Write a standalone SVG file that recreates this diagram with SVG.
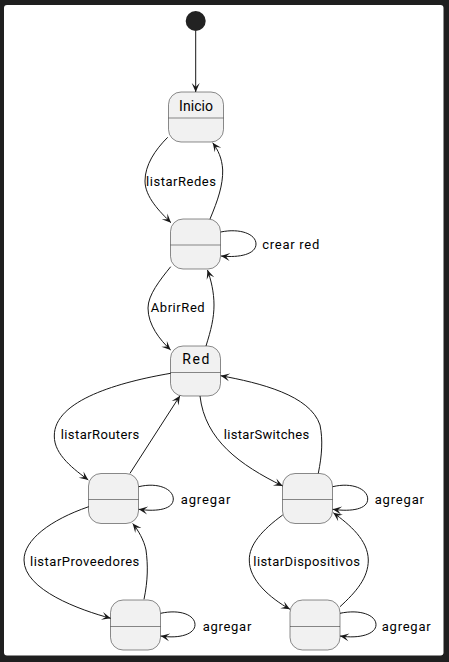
<svg xmlns="http://www.w3.org/2000/svg" width="449" height="662" viewBox="0 0 449 662">
<style>
.st{fill:#F1F1F1;stroke:#181818;stroke-width:0.5}
.sep{stroke:#181818;stroke-width:0.5}
.e{fill:none;stroke:#181818;stroke-width:1;marker-end:url(#ah)}
.lbl{font-family:Roboto,"Liberation Sans",sans-serif;font-size:13px;fill:#000000}
.nm{font-family:Roboto,"Liberation Sans",sans-serif;font-size:14px;fill:#000000}
</style>
<defs>
<marker id="ah" markerUnits="userSpaceOnUse" markerWidth="12" markerHeight="10" refX="10" refY="5" orient="auto" viewBox="0 0 12 10">
<path d="M10,5 L1,1 L5,5 L1,9 Z" fill="#181818"/>
</marker>
</defs>
<rect x="0" y="0" width="449" height="662" fill="#1f1f1f"/>
<rect x="4" y="5" width="439.5" height="650.5" rx="3" fill="#FFFFFF"/>

<g id="start"><circle cx="195.7" cy="21" r="10" fill="#222222"/></g>

<g id="Inicio">
<rect class="st" x="168.5" y="92" width="55" height="50" rx="12.5"/>
<line class="sep" x1="168.5" y1="118" x2="223.5" y2="118"/>
<text class="nm" x="179" y="110.5" textLength="34" lengthAdjust="spacing">Inicio</text>
</g>
<g id="Redes">
<rect class="st" x="170.5" y="219" width="50" height="50" rx="12.5"/>
<line class="sep" x1="170.5" y1="245" x2="220.5" y2="245"/>
</g>
<g id="Red">
<rect class="st" x="170.5" y="346" width="50" height="50" rx="12.5"/>
<line class="sep" x1="170.5" y1="372.5" x2="220.5" y2="372.5"/>
<text class="nm" x="182.3" y="364" textLength="27" lengthAdjust="spacing">Red</text>
</g>
<g id="Routers">
<rect class="st" x="88.5" y="473.5" width="50" height="50" rx="12.5"/>
<line class="sep" x1="88.5" y1="499.5" x2="138.5" y2="499.5"/>
</g>
<g id="Switches">
<rect class="st" x="282.5" y="473.5" width="50" height="50" rx="12.5"/>
<line class="sep" x1="282.5" y1="499.5" x2="332.5" y2="499.5"/>
</g>
<g id="Proveedores">
<rect class="st" x="110.5" y="600" width="50" height="50" rx="12.5"/>
<line class="sep" x1="110.5" y1="626.5" x2="160.5" y2="626.5"/>
</g>
<g id="Dispositivos">
<rect class="st" x="290" y="600" width="50" height="50" rx="12.5"/>
<line class="sep" x1="290" y1="626.5" x2="340" y2="626.5"/>
</g>

<g id="connectors">
<path class="e" d="M195.7,31 L195.7,92"/>
<path class="e" d="M167.7,137.3 C155,150 145,165 145,181 C145,197 160,212 171,222.7"/>
<path class="e" d="M210,219 C218,200 223,185 222.7,170 C222,158 218,150 212.7,142.7"/>
<path class="e" d="M220.7,232 C240,228 256,234 256,244 C256,254 240,258 221,256"/>
<path class="e" d="M170.7,266.7 C160,280 148,295 148,308 C148,325 160,340 170.7,350"/>
<path class="e" d="M206,346 C211,330 214,318 214,305 C214,292 211,280 207.5,270"/>
<path class="e" d="M170.7,373.3 C120,382 54,400 54.3,436 C54,455 75,470 88.3,480"/>
<path class="e" d="M130,473.3 L180,395.7"/>
<path class="e" d="M200,396 C205,440 240,465 282.7,486"/>
<path class="e" d="M318.3,473.3 C322,455 323,440 320,425 C310,395 260,383 220.7,375.7"/>
<path class="e" d="M138.7,486.7 C158,482 173.3,489 173.3,499 C173.3,509 158,512 138.7,509.3"/>
<path class="e" d="M332.7,486.7 C352,482 367.7,489 367.7,499 C367.7,509 352,512 332.7,509.3"/>
<path class="e" d="M88.7,506.7 C50,520 24,540 24,560 C24,590 80,610 110.7,618.3"/>
<path class="e" d="M144,599.3 C148,580 148,565 146,550 C144,540 138,530 132.7,523.5"/>
<path class="e" d="M282.7,515 C262,530 249,545 249.3,560 C249,580 270,598 290,609.3"/>
<path class="e" d="M340,606.7 C356,592 368.3,578 368.3,560 C368,540 350,525 333.3,512.7"/>
<path class="e" d="M160.7,613.3 C180,609 195,615 195,624.7 C195,634 180,639 160.7,636"/>
<path class="e" d="M340,613.3 C360,609 376,615 376,624.7 C376,634 360,639 340,636"/>
<text class="lbl" x="146" y="186" textLength="70" lengthAdjust="spacing">listarRedes</text>
<text class="lbl" x="262.3" y="248.5" textLength="57" lengthAdjust="spacing">crear red</text>
<text class="lbl" x="150.7" y="312" textLength="54" lengthAdjust="spacing">AbrirRed</text>
<text class="lbl" x="60.7" y="439" textLength="78.6" lengthAdjust="spacing">listarRouters</text>
<text class="lbl" x="223.7" y="439" textLength="85.6" lengthAdjust="spacing">listarSwitches</text>
<text class="lbl" x="180.7" y="503.5" textLength="49.6" lengthAdjust="spacing">agregar</text>
<text class="lbl" x="374.7" y="503.5" textLength="49.3" lengthAdjust="spacing">agregar</text>
<text class="lbl" x="30" y="566" textLength="109.3" lengthAdjust="spacing">listarProveedores</text>
<text class="lbl" x="253.3" y="566" textLength="106.7" lengthAdjust="spacing">listarDispositivos</text>
<text class="lbl" x="202.7" y="630.5" textLength="48.6" lengthAdjust="spacing">agregar</text>
<text class="lbl" x="381.7" y="630.5" textLength="49" lengthAdjust="spacing">agregar</text>
</g>
</svg>
